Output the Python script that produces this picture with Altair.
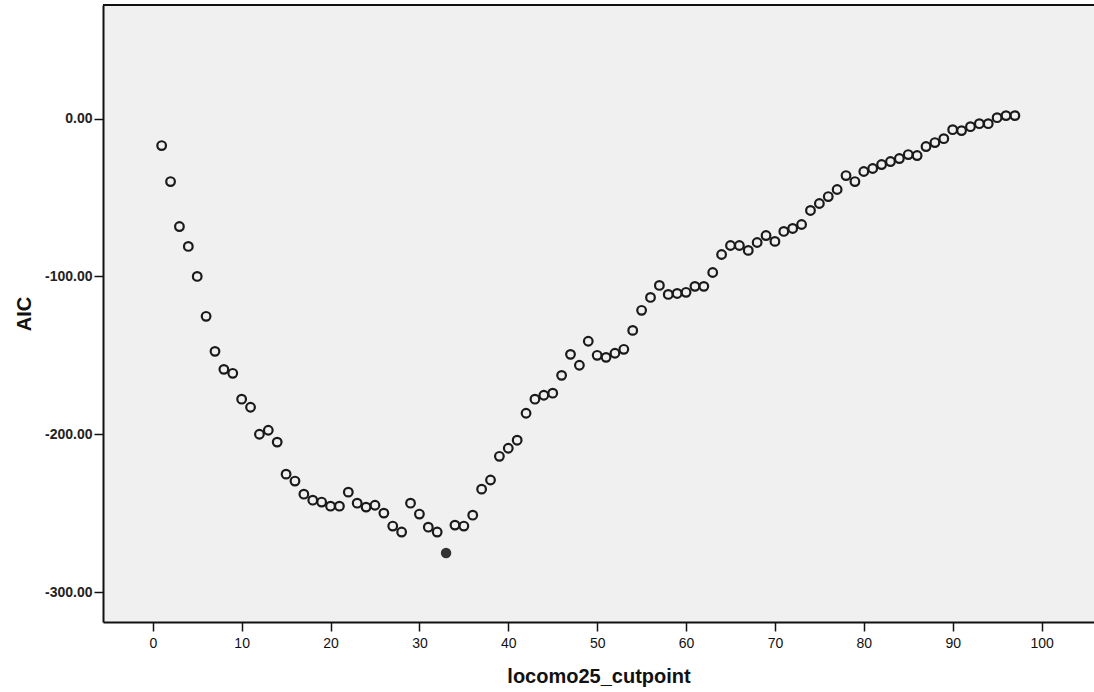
import altair as alt
import pandas as pd

cutpoint = list(range(1, 98))
aic = [
    -17.1, -39.9, -68.4, -81.0, -100.0, -125.3, -147.5, -158.9, -161.4, -177.8,
    -182.9, -200.0, -197.5, -205.0, -225.3, -229.7, -238.0, -241.8, -243.0, -245.6,
    -245.6, -236.7, -243.7, -246.2, -245.0, -250.0, -258.2, -262.0, -243.7, -250.6,
    -258.9, -262.0, -275.3, -257.6, -258.2, -251.3, -234.8, -229.0, -214.0, -208.9,
    -203.8, -186.7, -177.8, -175.3, -174.0, -162.7, -149.4, -156.3, -141.1, -150.0,
    -151.3, -148.7, -146.2, -134.2, -121.5, -113.3, -105.7, -111.4, -110.8, -110.1,
    -106.3, -106.3, -97.5, -86.1, -80.4, -80.4, -83.5, -78.5, -74.1, -77.8,
    -71.5, -69.6, -67.1, -58.2, -53.8, -49.4, -44.9, -36.1, -39.9, -33.5,
    -31.6, -29.1, -27.2, -25.3, -22.8, -23.4, -17.7, -15.2, -12.7, -7.0,
    -7.6, -5.1, -3.2, -3.2, 0.6, 1.9, 1.9,
]
best_cutpoint = 33
x_ticks = [0, 10, 20, 30, 40, 50, 60, 70, 80, 90, 100]
y_ticks = [0, -100, -200, -300]

df = pd.DataFrame({"cutpoint": cutpoint, "AIC": aic})
df["best"] = df["cutpoint"] == best_cutpoint

W, H = 991, 617
xs = alt.Scale(domain=[-5.6, 105.9], nice=False, zero=False)
ys = alt.Scale(domain=[-319, 72], nice=False, zero=False)

x_axis = alt.Axis(
    values=x_ticks, title="locomo25_cutpoint", grid=False,
    labelFont="Liberation Sans", labelFontSize=14, labelColor="#111", labelPadding=5,
    tickSize=9, tickColor="#111", tickWidth=1.5,
    domainColor="#111", domainWidth=2,
    titleFont="Liberation Sans", titleFontSize=20, titleFontWeight="bold",
    titleColor="#111", titlePadding=16,
)
y_axis = alt.Axis(
    values=y_ticks, title="AIC", grid=False,
    labelExpr="(datum.value < 0 ? '-' : '') + format(abs(datum.value), '.2f')",
    labelFont="Liberation Sans", labelFontSize=14, labelFontWeight="bold",
    labelColor="#222", labelPadding=2,
    tickSize=9, tickColor="#111", tickWidth=1.5,
    domainColor="#111", domainWidth=2,
    titleFont="Liberation Sans", titleFontSize=20, titleFontWeight="bold",
    titleColor="#111", titlePadding=10,
)

x_enc = alt.X("cutpoint:Q", scale=xs, axis=x_axis)
y_enc = alt.Y("AIC:Q", scale=ys, axis=y_axis)

open_pts = alt.Chart(df).transform_filter("!datum.best").mark_point(
    shape="circle", filled=False, stroke="#1a1a1a", strokeWidth=2.2, size=75, opacity=1
).encode(x=x_enc, y=y_enc)

best_pt = alt.Chart(df).transform_filter("datum.best").mark_point(
    shape="circle", filled=True, color="#333333", size=110, opacity=1
).encode(x=alt.X("cutpoint:Q", scale=xs), y=alt.Y("AIC:Q", scale=ys))

top_line = alt.Chart(pd.DataFrame({"k": [0]})).mark_rule(
    color="#111", strokeWidth=2
).encode(x=alt.value(0), x2=alt.value(W), y=alt.value(0))

chart = alt.layer(top_line, open_pts, best_pt).properties(
    width=W, height=H,
    autosize=alt.AutoSizeParams(type="none"),
    padding={"left": 103, "top": 5, "right": 0, "bottom": 70},
    background="white",
).configure_view(fill="#f0f0f0", stroke=None)

chart.save("out.html", embed_options={"renderer": "svg", "actions": False})
